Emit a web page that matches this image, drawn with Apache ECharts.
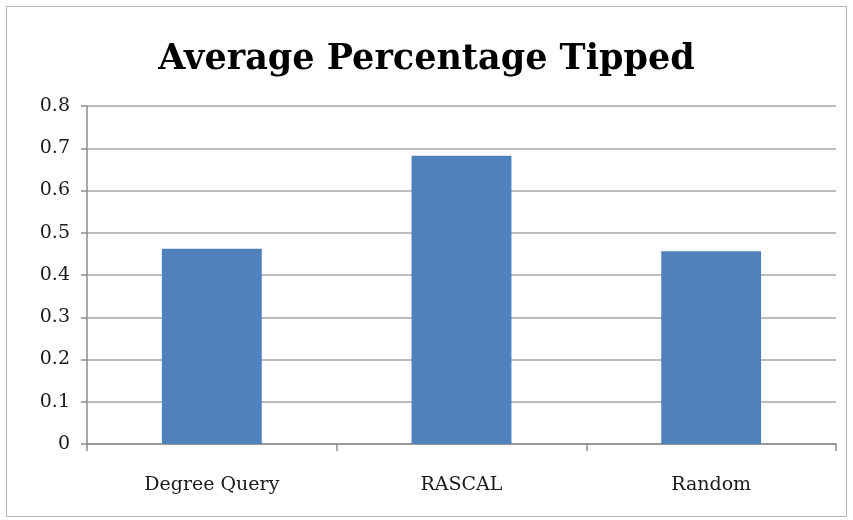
<!DOCTYPE html>
<html>
<head>
<meta charset="utf-8">
<script src="https://cdn.jsdelivr.net/npm/echarts@6/dist/echarts.min.js"></script>
<style>
html,body{margin:0;padding:0;background:#fff;}
#chart{position:absolute;left:0;top:0;width:853px;height:520px;}
#frame{position:absolute;left:6px;top:6px;width:841px;height:511px;border:1.5px solid #b5b5b5;pointer-events:none;box-sizing:border-box;}
</style>
</head>
<body>
<div id="chart"></div>
<div id="frame"></div>
<script>
const titleText = "Average Percentage Tipped";
const categories = ["Degree Query", "RASCAL", "Random"];
const values = [0.462, 0.682, 0.456];
const yMin = 0, yMax = 0.8, yInterval = 0.1;

const chart = echarts.init(document.getElementById('chart'), null, {renderer: 'canvas'});
const fontFam = '"DejaVu Serif", "Liberation Serif", serif';
chart.setOption({
  animation: false,
  backgroundColor: '#fff',
  title: {
    text: titleText,
    left: 'center',
    top: 37,
    textStyle: {fontFamily: fontFam, fontWeight: 'bold', fontSize: 35, color: '#000'}
  },
  grid: {left: 87, right: 17, top: 106, bottom: 76, containLabel: false},
  xAxis: {
    type: 'category',
    data: categories,
    axisLine: {lineStyle: {color: '#8c8c8c', width: 1.5}},
    axisTick: {show: true, length: 7, lineStyle: {color: '#8c8c8c', width: 1.5}},
    axisLabel: {margin: 32, fontFamily: fontFam, fontSize: 19, color: '#1a1a1a'}
  },
  yAxis: {
    type: 'value',
    min: yMin, max: yMax, interval: yInterval,
    axisLine: {show: true, lineStyle: {color: '#8c8c8c', width: 1.5}},
    axisTick: {show: true, length: 6, lineStyle: {color: '#8c8c8c', width: 1.5}},
    splitLine: {lineStyle: {color: '#a6a6a6', width: 1.5}},
    axisLabel: {margin: 17, fontFamily: fontFam, fontSize: 19, color: '#1a1a1a',
      formatter: v => (Math.round(v*10)/10).toString()}
  },
  series: [{
    type: 'bar',
    data: values,
    barWidth: '40%',
    itemStyle: {color: '#4f81bd'}
  }]
});
</script>
</body>
</html>
